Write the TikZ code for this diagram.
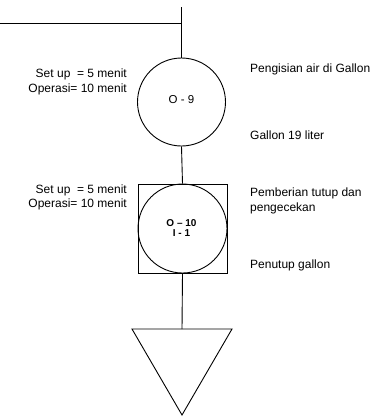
\documentclass[tikz,border=0pt]{standalone}
\usepackage{fontspec}
\setmainfont{Liberation Sans}
\usetikzlibrary{positioning}
\begin{document}
\begin{tikzpicture}[x=1pt,y=-1pt,
  ln/.style={line width=0.9pt},
  opcircle/.style={circle,draw,line width=0.9pt,minimum size=88pt,inner sep=0pt},
  inspbox/.style={draw,line width=0.9pt,minimum size=89pt,inner sep=0pt},
  lefttxt/.style={font=\fontsize{12}{14.5}\selectfont,align=right,anchor=east,inner sep=0pt},
  righttxt/.style={font=\fontsize{12}{15.5}\selectfont,align=left,anchor=west,inner sep=0pt},
  lbl/.style={font=\fontsize{11.5}{11.5}\selectfont,align=center,inner sep=0pt}]
\useasboundingbox (0,0) rectangle (388,416);
\coordinate (top) at (181.5,7);
\coordinate (join) at (181.5,23);
\coordinate (left) at (0,23);
\node[opcircle] (o9) at (181.5,102) {};
\node[lbl] (o9l) at (181.5,100) {O - 9};
\node[inspbox] (box) at (182.5,228.5) {};
\node[opcircle,minimum size=89pt] (o10) at (182.5,228.5) {};
\node[lbl,font=\fontsize{10}{10.5}\selectfont\bfseries] (o10l) at (181.5,228) {O -- 10\\I - 1};
\coordinate (tritop) at (182,329);
\coordinate (tl) at (132,329);
\coordinate (tr) at (232,329);
\coordinate (tb) at (182,415);
\draw[ln] (top) -- (o9.north);
\draw[ln] (left) -- (join);
\draw[ln] (o9.south) -- (box.north);
\draw[ln] (box.south) -- (tritop);
\draw[ln,line join=miter] (tl) -- (tr) -- (tb) -- cycle;
\node[lefttxt] (su1) at (127,82) {Set up\ \ = 5 menit\\Operasi= 10 menit};
\node[lefttxt] (su2) at (127,197.5) {Set up\ \ = 5 menit\\Operasi= 10 menit};
\node[righttxt] (t1) at (250,69) {Pengisian air di Gallon};
\node[righttxt] (t2) at (250,135) {Gallon 19 liter};
\node[righttxt] (t3) at (250,201) {Pemberian tutup dan\\pengecekan};
\node[righttxt] (t4) at (250,265) {Penutup gallon};
\end{tikzpicture}
\end{document}
